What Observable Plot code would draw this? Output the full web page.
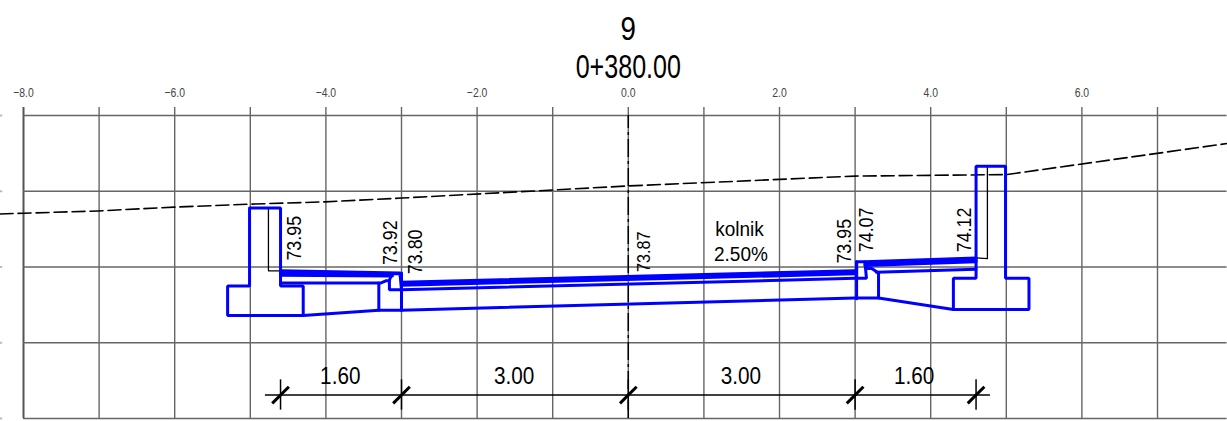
<!DOCTYPE html>
<html>
<head>
<meta charset="utf-8">
<script src="https://cdn.jsdelivr.net/npm/d3@7"></script>
<script src="https://cdn.jsdelivr.net/npm/@observablehq/plot@0.6"></script>
<style>html,body{margin:0;padding:0;background:#fff;overflow:hidden}svg{display:block}</style>
</head>
<body>
<div id="chart"></div>
<script>
const gridX = [-8,-7,-6,-5,-4,-3,-2,-1,0,1,2,3,4,5,6,7];
const gridY = [72,73,74,75,76];
const tickX = [-8,-6,-4,-2,0,2,4,6];
const terrain = [[-8.31,74.70],[-8,74.71],[-7.01,74.74],[-6.01,74.79],[-5,74.83],[-4.01,74.86],[-3,74.91],[0,75.07],[3,75.20],[5,75.22],[7.92,75.63]];

const leftCurb = [[-5.01,74.78],[-4.60,74.78],[-4.60,73.75],[-4.30,73.75],[-4.30,73.36],[-5.30,73.36],[-5.30,73.75],[-5.01,73.75],[-5.01,74.78]];
const rightCurb = [[4.30,73.44],[5.30,73.44],[5.30,73.85],[4.99,73.85],[4.99,75.33],[4.60,75.33],[4.60,73.85],[4.30,73.85],[4.30,73.44]];
const leftInset = [[-3.13,73.91],[-3.02,73.91],[-3,73.70],[-3.16,73.70],[-3.16,73.82],[-3.13,73.91]];
const rightInset = [[3.02,74.07],[3.13,74.07],[3.15,73.85],[3.02,73.85],[3.02,74.07]];
const bottomEdge = [[-4.30,73.36],[-3.30,73.43],[-3,73.43],[3,73.59],[3.31,73.59],[4.30,73.44]];
const leftBase = [[-4.60,73.79],[-3.30,73.79],[-3.27,73.79],[-3.20,73.82],[-3.16,73.82]];
const leftWall = [[-3.30,73.79],[-3.30,73.43]];
const leftEdge = [[-3,73.92],[-3,73.43]];
const rightEdge = [[3.02,74.07],[3.02,73.58]];
const rightBase = [[3.15,73.98],[3.22,73.98],[3.31,73.92],[3.31,73.59]];
const rightLower = [[3.28,73.93],[4.60,73.97]];
const layers = [
  [[-4.60,73.95],[-3.02,73.92]],
  [[-4.60,73.92],[-3.12,73.90]],
  [[-4.60,73.89],[-3.12,73.88]],
  [[-3,73.80],[3,73.95]],
  [[-3,73.78],[3,73.93]],
  [[-3,73.76],[3,73.91]],
  [[-3,73.70],[3,73.85]],
  [[3.13,74.07],[4.60,74.12]],
  [[3.13,74.04],[4.60,74.09]],
  [[3.13,74.02],[4.60,74.07]]
];
const blueLines = [leftCurb,rightCurb,leftInset,rightInset,bottomEdge,leftBase,leftWall,leftEdge,rightEdge,rightBase,rightLower,...layers];

const leaderLeft = [[-4.76,74.78],[-4.76,73.95],[-4.60,73.95]];
const leaderRight = [[4.75,75.33],[4.75,74.11],[4.60,74.12]];

const levelText = ["73.95","73.92","73.80","73.87","73.95","74.07","74.12"];
const levelX = [-4.42,-3.15,-2.82,0.21,2.86,3.15,4.44];
const levelY = [74.38,74.32,74.20,74.20,74.34,74.49,74.49];
const levelSize = [21,21,21,19,21,21,21];

const dimStops = [-4.6,-3,0,3,4.6];
const dimLevel = 72.31;
const dimText = ["1.60","3.00","3.00","1.60"];
const dimTextX = [-3.81,-1.51,1.49,3.78];
const noteText = ["kolnik","2.50%"];
const noteX = [1.47,1.49];
const noteY = [74.49,74.17];

const FONT = "'Liberation Sans',sans-serif";
const idx = a => a.map((_,i)=>i);

const plot = Plot.plot({
  width:1227, height:421, margin:0,
  style:{background:"#fff", fontFamily:FONT},
  x:{domain:[-8,8], range:[23,1232.6], axis:null},
  y:{domain:[72,76], range:[418,115], axis:null},
  marks:[
    Plot.ruleX(gridX,{x:d=>d, y1:72, y2:76.105, stroke:d=>d===-8?"#555":"#666", strokeWidth:d=>d===-8?2:1.4}),
    Plot.ruleY(gridY,{y:d=>d, x1:-8, x2:7.92, stroke:"#666", strokeWidth:1.5}),
    Plot.ruleY(gridY,{y:d=>d, x1:-8.31, x2:-8.275, stroke:"#bbb", strokeWidth:2}),
    Plot.ruleX([0],{y1:72,y2:76,stroke:"#000",strokeWidth:1.5,strokeDasharray:"18 4 3 4"}),
    Plot.line(terrain,{x:d=>d[0],y:d=>d[1],stroke:"#000",strokeWidth:1.6,strokeDasharray:"13 5"}),
    Plot.line(leaderLeft,{x:d=>d[0],y:d=>d[1],stroke:"#000",strokeWidth:1.3}),
    Plot.line(leaderRight,{x:d=>d[0],y:d=>d[1],stroke:"#000",strokeWidth:1.3}),
    ...blueLines.map(l=>Plot.line(l,{x:d=>d[0],y:d=>d[1],stroke:"#0000ff",strokeWidth:3,strokeLinejoin:"miter"})),
    Plot.ruleY([dimLevel],{x1:-4.8,x2:4.79,stroke:"#000",strokeWidth:1.4}),
    Plot.ruleX(dimStops,{x:d=>d,y1:dimLevel-0.2,y2:dimLevel+0.2,stroke:"#000",strokeWidth:1.5}),
    Plot.link(dimStops,{x1:d=>d-0.11,x2:d=>d+0.11,y1:dimLevel-0.11,y2:dimLevel+0.11,stroke:"#000",strokeWidth:3}),
    Plot.text(tickX,{x:d=>d,y:76.30,text:d=>(d<0?"\u2212":"")+Math.abs(d).toFixed(1),fontSize:13,fill:"#444",className:"narrow80"}),
    Plot.text(idx(levelText),{x:i=>levelX[i],y:i=>levelY[i],text:i=>levelText[i],rotate:-90,fontSize:i=>levelSize[i],fill:"#000",className:"narrow85"}),
    Plot.text(idx(noteText),{x:i=>noteX[i],y:i=>noteY[i],text:i=>noteText[i],fontSize:20,fill:"#000",className:"narrow95"}),
    Plot.text(idx(dimText),{x:i=>dimTextX[i],y:72.55,text:i=>dimText[i],fontSize:23,fill:"#000",className:"narrow90"}),
    Plot.text(["9"],{x:0,y:77.14,text:d=>d,fontSize:33,fill:"#000",className:"narrow84"}),
    Plot.text(["0+380.00"],{x:0,y:76.64,text:d=>d,fontSize:33,fill:"#000",className:"narrow76"})
  ]
});
document.getElementById("chart").appendChild(plot);
// The reference uses a condensed CAD font: squeeze the real text horizontally.
for (const pct of [76,80,84,85,90,95]) {
  plot.querySelectorAll(`.narrow${pct} text`).forEach(t => {
    t.setAttribute("textLength", (t.getComputedTextLength() * pct / 100).toFixed(1));
    t.setAttribute("lengthAdjust", "spacingAndGlyphs");
  });
}
</script>
</body>
</html>
